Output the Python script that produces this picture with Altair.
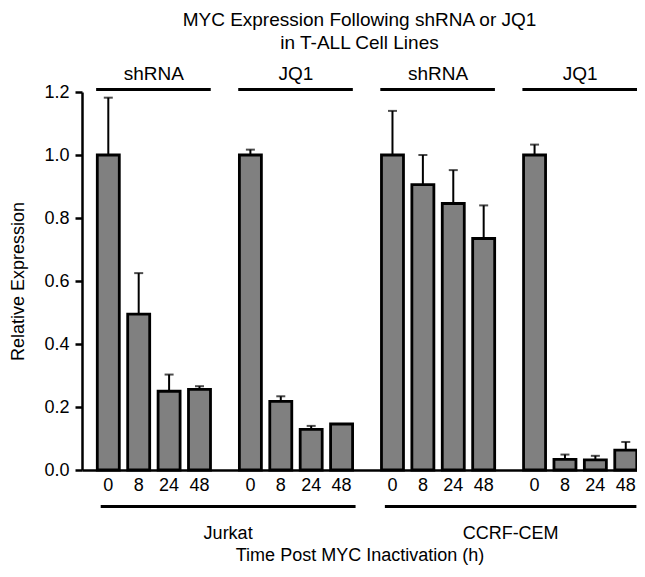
import altair as alt
import pandas as pd

# ---- data ----
cells = ["Jurkat", "Jurkat", "CCRF-CEM", "CCRF-CEM"]
treatments = ["shRNA", "JQ1", "shRNA", "JQ1"]
times = ["0", "8", "24", "48"]
means = [
    [1.00, 0.495, 0.250, 0.256],
    [1.00, 0.218, 0.129, 0.146],
    [1.00, 0.906, 0.846, 0.735],
    [1.00, 0.034, 0.032, 0.063],
]
err_tops = [
    [1.182, 0.625, 0.303, 0.266],
    [1.017, 0.234, 0.140, 0.146],
    [1.140, 1.000, 0.952, 0.840],
    [1.033, 0.049, 0.045, 0.089],
]
cell_lines = ["Jurkat", "CCRF-CEM"]
y_ticks = [0.0, 0.2, 0.4, 0.6, 0.8, 1.0, 1.2]

# ---- layout constants ----
FONT = "Liberation Sans"
GROUP_STEP = 4.674
SLOT_PX = 30.4
W, H = 555, 378
XMIN = -0.865
XMAX = XMIN + W / SLOT_PX
TOP_LINE_Y = 1.2077
TOP_TEXT_Y = 1.257
TICK_TEXT_Y = -0.05
BOT_LINE_Y = -0.1155
BOT_TEXT_Y = -0.204

rows = []
for g in range(4):
    for i in range(4):
        rows.append(dict(cell=cells[g], treatment=treatments[g], time=times[i],
                         pos=g * GROUP_STEP + i, value=means[g][i], top=err_tops[g][i],
                         ty=TICK_TEXT_Y))
df = pd.DataFrame(rows)

grp = pd.DataFrame([dict(pos=g * GROUP_STEP - 0.40, end=g * GROUP_STEP + 3.37,
                         mid=g * GROUP_STEP + 1.5, label=treatments[g],
                         value=TOP_LINE_Y, ty=TOP_TEXT_Y) for g in range(4)])
cl = []
for c in range(2):
    s = 2 * c * GROUP_STEP - 0.25
    e = min((2 * c + 1) * GROUP_STEP + 3 + 0.46, XMAX - 0.02)
    cl.append(dict(pos=s, end=e, mid=(s + e) / 2, label=cell_lines[c],
                   value=BOT_LINE_Y, ty=BOT_TEXT_Y))
cldf = pd.DataFrame(cl)

x_scale = alt.Scale(domain=[XMIN, XMAX], nice=False, zero=False, padding=0)
y_scale = alt.Scale(domain=[0, 1.2], nice=False, padding=0)

x_axis = alt.Axis(labels=False, ticks=False, grid=False,
                  domainWidth=2.5, domainColor="black",
                  title="Time Post MYC Inactivation (h)", titleFontSize=18, titleFont=FONT,
                  titleFontWeight="normal", titleColor="black", titleY=85,
                  titleBaseline="middle")
y_axis = alt.Axis(values=y_ticks, format=".1f", tickSize=7, tickWidth=2.5, tickColor="black",
                  domainWidth=2.5, domainColor="black", grid=False, labelFontSize=18,
                  labelFont=FONT, labelColor="black", labelPadding=6,
                  title="Relative Expression", titleFontSize=18, titleFont=FONT,
                  titleFontWeight="normal", titleColor="black", titleX=-64, titleY=H / 2,
                  titleBaseline="middle", titleAlign="center")

X = alt.X("pos:Q", scale=x_scale, axis=x_axis, title="Time Post MYC Inactivation (h)")
Y = alt.Y("value:Q", scale=y_scale, axis=y_axis, title="Relative Expression")

base = alt.Chart(df)
stems = base.mark_rule(color="black", strokeWidth=2).encode(x=X, y=Y, y2="top:Q")
caps = base.mark_tick(orient="horizontal", size=9, thickness=2, color="black").encode(
    x=X, y=alt.Y("top:Q", scale=y_scale))
bars = base.mark_bar(size=22, color="#808080", stroke="black", strokeWidth=2.8).encode(
    x=X, y=Y, tooltip=["cell", "treatment", "time", "value"])
tick_text = base.mark_text(font=FONT, fontSize=18, color="black", baseline="middle").encode(
    x=X, y=alt.Y("ty:Q", scale=y_scale), text="time:N")

grp_lines = alt.Chart(grp).mark_rule(color="black", strokeWidth=3).encode(x=X, x2="end:Q", y=Y)
grp_text = alt.Chart(grp).mark_text(font=FONT, fontSize=19, color="black", baseline="middle").encode(
    x=alt.X("mid:Q", scale=x_scale), y=alt.Y("ty:Q", scale=y_scale), text="label:N")
cl_lines = alt.Chart(cldf).mark_rule(color="black", strokeWidth=3).encode(x=X, x2="end:Q", y=Y)
cl_text = alt.Chart(cldf).mark_text(font=FONT, fontSize=18, color="black", baseline="middle").encode(
    x=alt.X("mid:Q", scale=x_scale), y=alt.Y("ty:Q", scale=y_scale), text="label:N")

chart = alt.layer(stems, caps, bars, tick_text, grp_lines, grp_text, cl_lines, cl_text).properties(
    width=W, height=H,
    title=alt.TitleParams(text=["MYC Expression Following shRNA or JQ1", "in T-ALL Cell Lines"],
                          fontSize=19, font=FONT, fontWeight="normal", color="black",
                          anchor="middle", lineHeight=23, offset=12),
    autosize=alt.AutoSizeParams(type="none"),
    padding={"left": 74, "top": 84, "right": 0, "bottom": 95},
).configure_view(stroke=None)

chart.save("out.html", embed_options={"renderer": "svg", "actions": False})
